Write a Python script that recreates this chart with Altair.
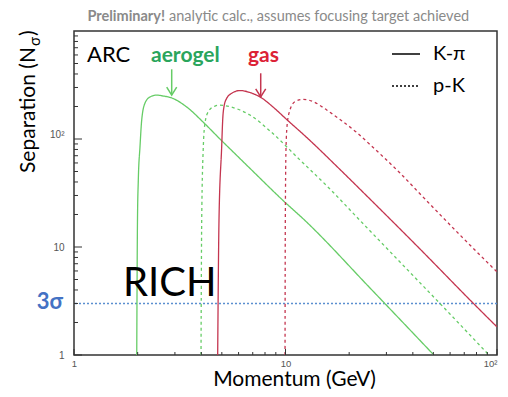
import altair as alt
import pandas as pd

# ---------------- data ----------------
# aerogel, K-pi (solid green)
aero_kpi_p = [1.98, 1.996, 2.014, 2.051, 2.090, 2.166, 2.287, 2.460, 2.644, 2.897, 3.41, 4.07, 4.90, 5.88, 6.79, 9.73, 12.36, 25.1, 49.8]
aero_kpi_s = [1.0, 17.8, 41.8, 84.3, 150, 215, 245, 255, 250, 240, 198, 144, 100, 70.5, 53.5, 27.0, 17.6, 4.17, 1.02]
# aerogel, p-K (dotted green)
aero_pk_p = [3.986, 4.016, 4.087, 4.163, 4.315, 4.642, 4.90, 5.466, 6.094, 6.79, 8.45, 11.71, 16.23, 21.71, 34.78, 59.9, 90.7]
aero_pk_s = [1.0, 17.8, 84.9, 140.6, 179, 202, 206, 199, 185.6, 166.8, 118.6, 63.9, 34.4, 18.96, 7.26, 2.40, 1.02]
# gas, K-pi (solid red)
gas_kpi_p = [4.779, 4.848, 4.992, 5.047, 5.119, 5.272, 5.567, 6.094, 6.79, 7.72, 8.73, 10.13, 12.60, 18.10, 25.08, 43.25, 77.0, 99.7]
gas_kpi_s = [1.0, 17.8, 84.9, 150, 199, 238, 265, 281, 269.5, 239.7, 197.8, 151.6, 103.3, 52.2, 27.8, 9.58, 3.03, 1.83]
# gas, p-K (dotted red)
gas_pk_p = [9.95, 9.98, 10.06, 10.20, 10.50, 11.09, 12.14, 13.54, 15.66, 18.10, 21.71, 25.08, 34.78, 45.65, 66.87, 99.7]
gas_pk_s = [1.0, 17.8, 84.9, 140.6, 185.6, 221.5, 233.1, 221.5, 185.6, 151.6, 114.9, 88.9, 48.4, 27.8, 12.9, 5.91]

radiators = ["aerogel", "gas"]
pairs = ["K-π", "p-K"]
three_sigma = [3]

# arrows marking the radiators (momentum, top, tip)
arrow_radiator = ["aerogel", "gas"]
arrow_p = [2.897, 7.635]
arrow_top = [442, 406]
arrow_tip = [255, 246]

# ticks
major_ticks = [1, 10, 100]
x_minor_ticks = [2, 3, 4, 5, 6, 7, 8, 9, 20, 30, 40, 50, 60, 70, 80, 90]
y_minor_ticks = x_minor_ticks + [200, 300, 400, 500, 600, 700, 800, 900]

header_bold = ["Preliminary!"]
header_rest = ["analytic calc., assumes focusing target achieved"]
x_title = ["Momentum (GeV)"]
y_title = ["Separation (N", "σ", ")"]
label_arc = ["ARC"]
label_rich = ["RICH"]
label_sigma = ["3σ"]

# ---------------- build tables ----------------
rows = []
for rad, pair, ps, ss in [
    ("aerogel", "K-π", aero_kpi_p, aero_kpi_s),
    ("aerogel", "p-K", aero_pk_p, aero_pk_s),
    ("gas", "K-π", gas_kpi_p, gas_kpi_s),
    ("gas", "p-K", gas_pk_p, gas_pk_s),
]:
    for i, (p, s) in enumerate(zip(ps, ss)):
        rows.append({"radiator": rad, "pair": pair, "curve": rad + pair, "i": i, "p": p, "s": s})
curves = pd.DataFrame(rows)

W, H = 423, 324
GREEN, RED = "#66cc66", "#c4354f"
GREEN_T, RED_T = "#2aa55c", "#dc2236"

xs = alt.Scale(type="log", domain=[1, 100], nice=False)
ys = alt.Scale(type="log", domain=[1, 1000], nice=False)
lab = "datum.value == 100 ? '10²' : (datum.value == 10 ? '10' : '1')"


def xaxis():
    return alt.Axis(values=major_ticks, labelExpr=lab, ticks=False, domain=False, grid=False,
                    labelFont="Liberation Sans", labelFontSize=9.5, labelColor="#555",
                    labelPadding=3, labelFlush=False, title=None,
                    labelAlign={"condition": {"test": "datum.value == 100", "value": "right"}, "value": "center"})


def yaxis():
    return alt.Axis(values=major_ticks, labelExpr=lab, ticks=False, domain=False, grid=False,
                    labelFont="Liberation Sans", labelFontSize=10, labelColor="#555",
                    labelPadding=10, title=None,
                    labelBaseline={"condition": {"test": "datum.value == 100", "value": "bottom"}, "value": "middle"})


def X(f):
    return alt.X(f, scale=xs, axis=xaxis())


def Y(f):
    return alt.Y(f, scale=ys, axis=yaxis())


color_scale = alt.Scale(domain=radiators, range=[GREEN, RED])

lines = alt.Chart(curves).mark_line(clip=True, strokeWidth=1.3, interpolate="monotone").encode(
    x=X("p:Q"), y=Y("s:Q"),
    color=alt.Color("radiator:N", scale=color_scale, legend=None),
    strokeDash=alt.StrokeDash("pair:N", scale=alt.Scale(domain=pairs, range=[[1, 0], [3, 3]]), legend=None),
    detail="curve:N", order="i:Q",
)

sigma_line = alt.Chart(pd.DataFrame({"v": three_sigma})).mark_rule(
    color="#5b8fd0", strokeDash=[2, 2], strokeWidth=1.5).encode(y=Y("v:Q"))

y_major = alt.Chart(pd.DataFrame({"v": major_ticks})).mark_rule(color="#333", strokeWidth=1).encode(
    y=Y("v:Q"), x=alt.value(0), x2=alt.value(8))
y_minor = alt.Chart(pd.DataFrame({"v": y_minor_ticks})).mark_rule(color="#333", strokeWidth=1).encode(
    y=Y("v:Q"), x=alt.value(0), x2=alt.value(4))
x_major = alt.Chart(pd.DataFrame({"v": major_ticks})).mark_rule(color="#333", strokeWidth=1).encode(
    x=X("v:Q"), y=alt.value(H), y2=alt.value(H - 6))
x_minor = alt.Chart(pd.DataFrame({"v": x_minor_ticks})).mark_rule(color="#333", strokeWidth=1).encode(
    x=X("v:Q"), y=alt.value(H), y2=alt.value(H - 3))

arrows_df = pd.DataFrame({"radiator": arrow_radiator, "p": arrow_p, "top": arrow_top, "tip": arrow_tip})
arrow_color = alt.Color("radiator:N", scale=alt.Scale(domain=radiators, range=[GREEN_T, RED_T]), legend=None)
shafts = alt.Chart(arrows_df).mark_rule(strokeWidth=1.5).encode(
    x=X("p:Q"), y=Y("top:Q"), y2="tip:Q", color=arrow_color)
heads = alt.Chart(arrows_df).mark_point(shape="M-1,-1.6L0,0L1,-1.6", size=100, filled=False, strokeWidth=1.5,
                                        opacity=1).encode(x=X("p:Q"), y=Y("tip:Q"), color=arrow_color)


def txt(values, x, y, size, color="black", align="left", baseline="middle", weight="normal", angle=0,
        font="Lato"):
    kw = dict(align=align, baseline=baseline, fontSize=size, color=color, fontWeight=weight, font=font)
    if angle:
        kw["angle"] = angle
    return alt.Chart(pd.DataFrame({"t": values})).mark_text(**kw).encode(
        text="t:N", x=alt.value(x), y=alt.value(y))


texts = [
    txt(header_bold, 91, -10, 14.5, color="#8a8a8a", align="right", baseline="alphabetic", weight="bold"),
    txt(header_rest, 95, -10, 14.5, color="#8a8a8a", baseline="alphabetic"),
    txt(label_arc, 13, 24, 22),
    txt([radiators[0]], 77, 30.7, 21, color=GREEN_T, baseline="alphabetic", weight="bold"),
    txt([radiators[1]], 174, 30.7, 21, color=RED_T, baseline="alphabetic", weight="bold"),
    txt([pairs[0]], 359, 23, 20),
    txt([pairs[1]], 359, 55, 20),
    txt(label_rich, 49, 265, 40, baseline="alphabetic"),
    txt(label_sigma, -11, 271, 22, color="#4472c4", align="right", weight="bold"),
    txt(x_title, 220.5, 354.5, 21, align="center", baseline="alphabetic"),
    txt([y_title[0]], -39, 16, 21, align="right", baseline="alphabetic", angle=270),
    txt([y_title[1]], -34, 15, 15, align="left", baseline="alphabetic", angle=270),
    txt([y_title[2]], -39, 5, 21, align="left", baseline="alphabetic", angle=270),
]

legend_solid = alt.Chart(pd.DataFrame({"t": [pairs[0]]})).mark_rule(color="black", strokeWidth=1.5).encode(
    x=alt.value(318), x2=alt.value(346), y=alt.value(23))
legend_dot = alt.Chart(pd.DataFrame({"t": [pairs[1]]})).mark_rule(color="black", strokeWidth=1.5,
                                                                   strokeDash=[2, 2]).encode(
    x=alt.value(318), x2=alt.value(346), y=alt.value(55))

chart = alt.layer(
    sigma_line, lines, y_major, y_minor, x_major, x_minor, shafts, heads, legend_solid, legend_dot, *texts
).properties(
    width=W, height=H,
    autosize=alt.AutoSizeParams(type="none"),
    padding={"left": 66, "top": 23, "right": 3, "bottom": 34},
    background="white",
).configure_view(stroke="#333", strokeWidth=1.5)

chart.save("out.html", embed_options={"renderer": "svg", "actions": False})
